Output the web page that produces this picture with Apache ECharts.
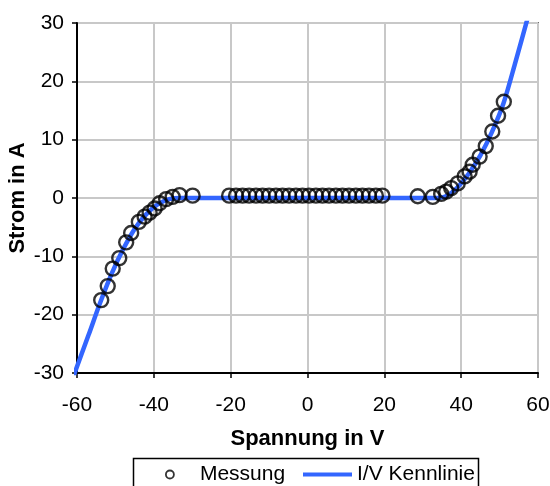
<!DOCTYPE html>
<html>
<head>
<meta charset="utf-8">
<script src="https://cdn.jsdelivr.net/npm/echarts@6/dist/echarts.min.js"></script>
<style>
  html, body { margin: 0; padding: 0; background: #fff; }
  #chart { width: 550px; height: 486px; }
</style>
</head>
<body>
<div id="chart"></div>
<script>
// Messpunkte (Spannung in V, Strom in A)
const messSpannung = [
  -53.7, -52.0, -50.7, -49.0, -47.2, -45.9, -43.9, -42.4, -41.1, -39.8, -38.5, -36.8, -35.1, -33.3, -29.9,
  -20.4, -18.6, -16.9, -15.2, -13.4, -11.7, -10.0, -8.2, -6.5, -4.8, -3.0, -1.3,
  0.4, 2.2, 3.9, 5.6, 7.4, 9.1, 10.8, 12.6, 14.3, 16.0, 17.8, 19.5,
  28.7, 32.6, 34.8, 36.1, 37.4, 39.1, 40.9, 42.2, 43.0, 44.8, 46.4, 48.1, 49.6, 51.1
]
const messStrom = [
  -17.5, -15.1, -12.1, -10.3, -7.6, -6.0, -4.1, -3.2, -2.5, -1.8, -0.9, -0.2, 0.2, 0.5, 0.4,
  0.4, 0.4, 0.4, 0.4, 0.4, 0.4, 0.4, 0.4, 0.4, 0.4, 0.4, 0.4,
  0.4, 0.4, 0.4, 0.4, 0.4, 0.4, 0.4, 0.4, 0.4, 0.4, 0.4, 0.4,
  0.3, 0.2, 0.7, 1.1, 1.7, 2.5, 3.7, 4.5, 5.7, 7.1, 8.9, 11.4, 14.1, 16.5
]

// I/V Kennlinie
const kennSpannung = [-62, -57, -54, -51, -48, -45, -42, -39, -36, -33, -20, 0, 20, 33, 36, 39, 42, 45, 48, 51, 54, 58]
const kennStrom = [-32.5, -23.5, -18, -13, -8.8, -5.3, -2.8, -1.1, -0.2, 0, 0, 0, 0, 0, 0.3, 1.8, 4.2, 7.3, 11.3, 16.2, 23, 32.5]

const font = 'Liberation Sans, Arial, sans-serif'

const chart = echarts.init(document.getElementById('chart'))
chart.setOption({
  backgroundColor: '#fff',
  animation: false,
  grid: {
    left: 77,
    right: 12,
    top: 23,
    bottom: 113,
    containLabel: false,
    outerBoundsMode: 'none',
    show: true,
    borderColor: '#000',
    borderWidth: 1.5
  },
  graphic: [{
    type: 'rect',
    shape: { x: 133.5, y: 458.5, width: 345, height: 40 },
    style: { fill: 'none', stroke: '#000', lineWidth: 1.5 }
  }],
  legend: [{
    data: ['Messung'],
    left: 165,
    top: 464,
    padding: 0,
    itemWidth: 8,
    itemHeight: 8,
    icon: 'circle',
    itemStyle: { color: 'transparent', borderColor: '#000', borderWidth: 1.8 },
    textStyle: { fontSize: 21, fontFamily: font, color: '#000', padding: [0, 0, 0, 21] }
  }, {
    data: ['I/V Kennlinie'],
    left: 303,
    top: 464,
    padding: 0,
    itemWidth: 49,
    itemHeight: 4,
    icon: 'rect',
    textStyle: { fontSize: 21, fontFamily: font, color: '#000' }
  }],
  xAxis: {
    type: 'value',
    min: -60,
    max: 60,
    interval: 20,
    name: 'Spannung in V',
    nameLocation: 'middle',
    nameGap: 55,
    nameMoveOverlap: false,
    nameTextStyle: { fontSize: 22, fontWeight: 'bold', fontFamily: font, color: '#000' },
    axisLine: { onZero: false, lineStyle: { color: '#000', width: 2 } },
    axisTick: { show: true, length: 5, lineStyle: { color: '#000', width: 1.5 } },
    axisLabel: { fontSize: 21, fontFamily: font, color: '#000', margin: 22 },
    splitLine: { lineStyle: { color: '#c8c8c8', width: 2 } }
  },
  yAxis: {
    type: 'value',
    min: -30,
    max: 30,
    interval: 10,
    name: 'Strom in A',
    nameLocation: 'middle',
    nameGap: 48,
    nameMoveOverlap: false,
    nameTextStyle: { fontSize: 22, fontWeight: 'bold', fontFamily: font, color: '#000' },
    axisLine: { onZero: false, lineStyle: { color: '#000', width: 2 } },
    axisTick: { show: true, length: 5, lineStyle: { color: '#000', width: 1.5 } },
    axisLabel: { fontSize: 21, fontFamily: font, color: '#000', margin: 13 },
    splitLine: { lineStyle: { color: '#c8c8c8', width: 2 } }
  },
  series: [{
    name: 'I/V Kennlinie',
    type: 'line',
    data: kennSpannung.map((v, i) => [v, kennStrom[i]]),
    showSymbol: false,
    smooth: 0.3,
    clip: true,
    color: '#3366ff',
    lineStyle: { color: '#3366ff', width: 4.5 },
    z: 2
  }, {
    name: 'Messung',
    type: 'scatter',
    data: messSpannung.map((v, i) => [v, messStrom[i]]),
    symbol: 'circle',
    symbolSize: 14,
    itemStyle: { color: 'transparent', borderColor: '#000', borderWidth: 2.4 },
    z: 3
  }]
})
</script>
</body>
</html>
